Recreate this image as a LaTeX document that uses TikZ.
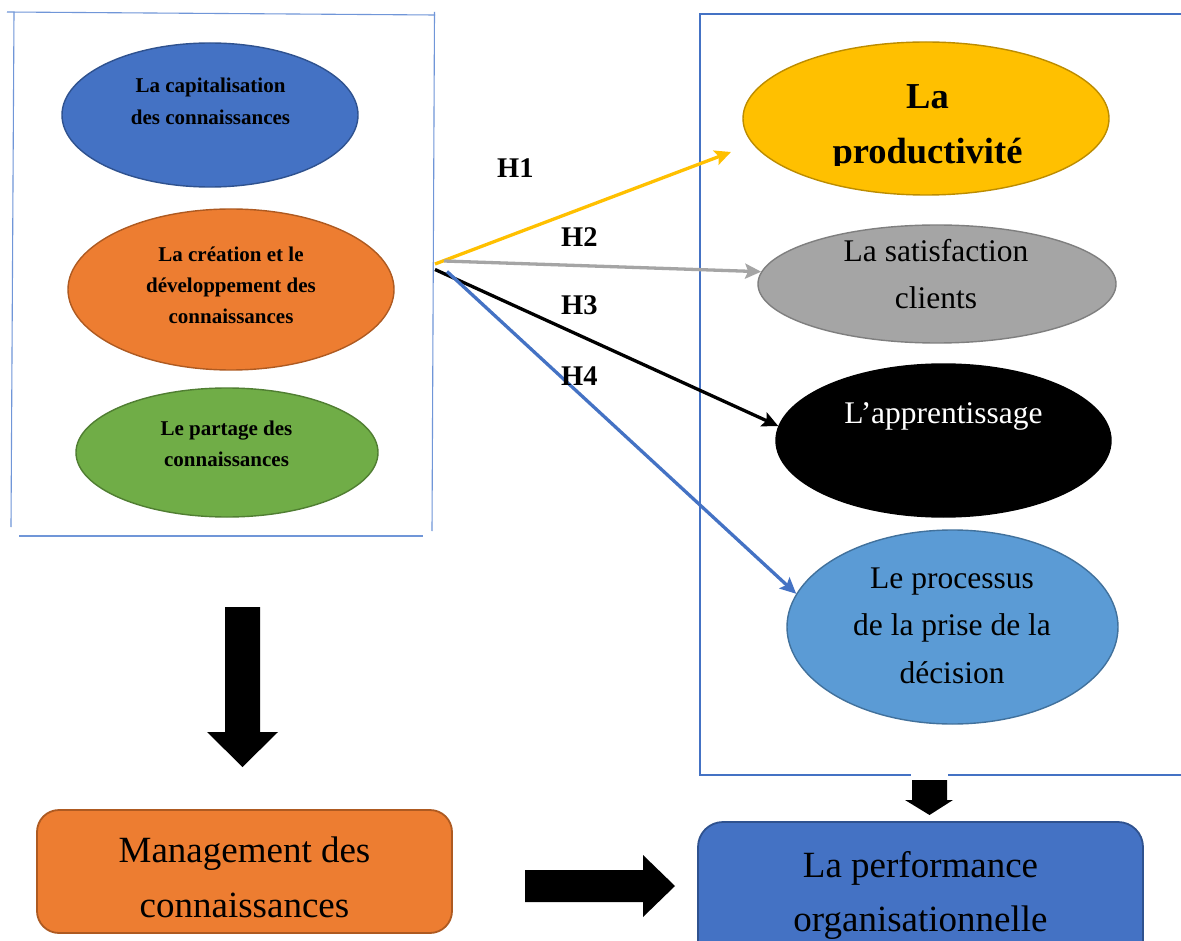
\documentclass[tikz,border=0pt]{standalone}
\usepackage{fontspec}
\setmainfont{Liberation Serif}
\usetikzlibrary{arrows.meta,shapes.geometric}

\definecolor{frameBlue}{HTML}{4472C4}
\definecolor{frameLight}{HTML}{7096D8}
\definecolor{capF}{HTML}{4472C4}\definecolor{capD}{HTML}{2F528F}
\definecolor{oraF}{HTML}{ED7D31}\definecolor{oraD}{HTML}{AE5A21}
\definecolor{grnF}{HTML}{70AD47}\definecolor{grnD}{HTML}{507E32}
\definecolor{yelF}{HTML}{FFC000}\definecolor{yelD}{HTML}{BC8C00}
\definecolor{gryF}{HTML}{A5A5A5}\definecolor{gryD}{HTML}{7F7F7F}
\definecolor{lbF}{HTML}{5B9BD5}\definecolor{lbD}{HTML}{41719C}

\begin{document}
\begin{tikzpicture}[x=1pt,y=-1pt,
  ell/.style={ellipse, inner sep=0pt, line width=1.4pt},
  txt/.style={inner sep=0pt, align=center},
  boldtxt/.style={txt, font=\bfseries\fontsize{21}{32}\selectfont},
  righttxt/.style={txt, font=\fontsize{31.5}{46}\selectfont},
  hyp/.style={inner sep=0pt, anchor=base west, font=\bfseries\fontsize{28.5}{30}\selectfont},
  link/.style={line width=3.3pt, -{Stealth[length=16pt,width=15pt,inset=3pt]}},
  card/.style={rectangle, rounded corners=22pt, line width=1.8pt, inner sep=0pt},
  bigtxt/.style={txt, font=\fontsize{36}{46}\selectfont}
]
\useasboundingbox (0,0) rectangle (1181,941);
\fill[white] (0,0) rectangle (1181,941);
\clip (0,0) rectangle (1181,941);

% left frame: four separate strokes
\draw[frameLight, line width=1.1pt] (7,12) -- (435,15);
\draw[frameLight, line width=1.1pt] (14,12) -- (11,527);
\draw[frameLight, line width=1.1pt] (434.5,12) -- (432,531);
\draw[frameLight, line width=1.1pt] (19,536) -- (423,536);

% right frame, open on the right
\draw[frameBlue, line width=1.8pt] (1190,14) -| (700,775) -- (1190,775);

% knowledge-management dimensions
\node[ell, fill=capF, draw=capD, minimum width=296pt, minimum height=144pt] (cap) at (210,115) {};
\node[ell, fill=oraF, draw=oraD, minimum width=326pt, minimum height=161pt] (crea) at (231,289.5) {};
\node[ell, fill=grnF, draw=grnD, minimum width=302pt, minimum height=129pt] (part) at (227,452.5) {};

% performance dimensions
\node[ell, fill=yelF, draw=yelD, minimum width=366pt, minimum height=153pt] (prod) at (926,118.5) {};
\node[ell, fill=gryF, draw=gryD, minimum width=358pt, minimum height=118pt] (sat) at (937,284) {};
\node[ell, fill=black, draw=black, minimum width=335pt, minimum height=153pt] (app) at (943.5,440.5) {};
\node[ell, fill=lbF, draw=lbD, minimum width=331pt, minimum height=194pt] (dec) at (952.5,627) {};

% hypotheses
\coordinate (hubY) at (435,264);
\coordinate (hubG) at (444,261);
\coordinate (hubK) at (435,269.5);
\coordinate (hubB) at (447,271.5);
\coordinate (prodEnd) at (731,152);
\draw[link, yelF] (hubY) -- (prodEnd);
\draw[link, gryF] (hubG) -- (sat.176);
\draw[link, black] (hubK) -- (app.175.6);
\draw[link, frameBlue] (hubB) -- (dec.168.5);

\node[hyp] (h1) at (497,178) {H1};
\node[hyp] (h2) at (561,247) {H2};
\node[hyp] (h3) at (561,315) {H3};
\node[hyp] (h4) at (561,385) {H4};

% ellipse texts
\node[boldtxt] (capT) at (210.5,101.5) {La capitalisation\\des connaissances};
\node[boldtxt, font=\bfseries\fontsize{21}{31}\selectfont] (creaT) at (231,285) {La cr\'eation et le\\d\'eveloppement des\\connaissances};
\node[boldtxt, font=\bfseries\fontsize{21}{31}\selectfont] (partT) at (226.5,444) {Le partage des\\connaissances};

\begin{scope}
  \clip (700,0) rectangle (1181,165.5);
  \node[txt, font=\bfseries\fontsize{36.5}{55}\selectfont] (prodT) at (927.5,127.5) {La\\productivit\'e};
\end{scope}
\node[righttxt, font=\fontsize{31.5}{47}\selectfont] (satT) at (936,274) {La satisfaction\\clients};
\node[righttxt, text=white] (appT) at (943.5,416) {L’apprentissage};
\node[righttxt, font=\fontsize{31.5}{47.5}\selectfont] (decT) at (952,625.5) {Le processus\\de la prise de la\\d\'ecision};

% block arrows
\fill[black] (225,607) -- (260,607) -- (260,732) -- (278,732) -- (242.5,767)
  -- (207,732) -- (225,732) -- cycle;
\fill[black] (525,870) -- (643,870) -- (643,855) -- (675,886) -- (643,917)
  -- (643,902) -- (525,902) -- cycle;
\fill[white] (911,771) rectangle (948,780);
\fill[black] (912,780) -- (947,780) -- (947,800) -- (953,800) -- (929.5,815)
  -- (905,800) -- (912,800) -- cycle;

% result boxes
\node[card, fill=oraF, draw=oraD, minimum width=415pt, minimum height=123pt] (mgmt) at (244.5,871.5) {};
\node[bigtxt, font=\fontsize{37}{55}\selectfont] (mgmtT) at (244.5,877.5) {Management des\\connaissances};
\node[card, rounded corners=25pt, fill=capF, draw=capD, minimum width=445pt, minimum height=180pt] (perf) at (920.5,912) {};
\node[bigtxt, font=\fontsize{37}{54}\selectfont] (perfT) at (920.5,895.5) {La performance\\organisationnelle};
\end{tikzpicture}
\end{document}
